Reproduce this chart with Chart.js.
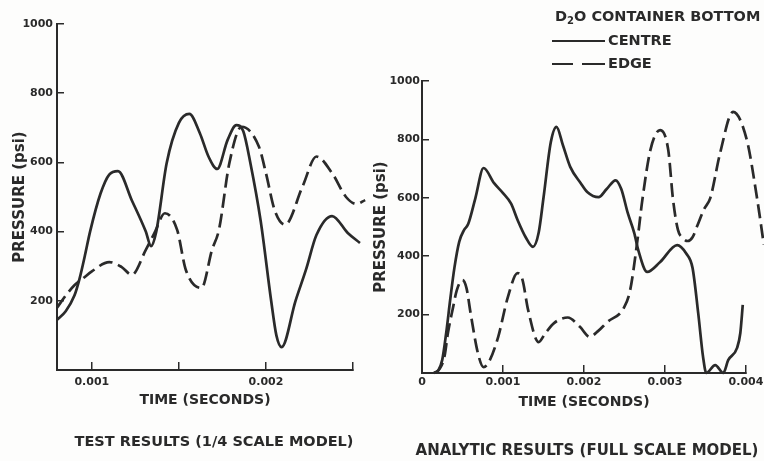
<!DOCTYPE html>
<html>
<head>
<meta charset="utf-8">
<script src="https://cdn.jsdelivr.net/npm/chart.js@4.4.1/dist/chart.umd.min.js"></script>
<style>
  body { margin: 0; background: #fdfdfc; }
  #wrap { position: relative; width: 764px; height: 461px; overflow: hidden; }
  canvas { position: absolute; top: 0; }
  .txt { position: absolute; font-family: "DejaVu Sans", sans-serif; font-weight: bold; color: #2a2a2a; white-space: nowrap; }
  .caption { width: 400px; text-align: center; line-height: 18px; }
  #legend { left: 552px; top: 5px; font-size: 14.5px; line-height: 23px; }
  #legend .sub { font-size: 10px; position: relative; top: 3px; }
  #legend .solid { display: inline-block; width: 53px; border-top: 2px solid #2a2a2a; vertical-align: middle; margin-right: 3px; }
  #legend .dash { display: inline-block; width: 21px; border-top: 2px solid #2a2a2a; vertical-align: middle; }
</style>
</head>
<body>
<div id="wrap">
  <canvas id="test" width="370" height="461" style="left:0"></canvas>
  <canvas id="analytic" width="394" height="461" style="left:370px"></canvas>
  <div class="txt caption" style="left:14px; top:432px; font-size:14.5px">TEST RESULTS (1/4 SCALE MODEL)</div>
  <div class="txt caption" style="left:387px; top:441px; font-size:15px">ANALYTIC RESULTS (FULL SCALE MODEL)</div>
  <div id="legend" class="txt">
    <div style="margin-left:3px">D<span class="sub">2</span>O CONTAINER BOTTOM</div>
    <div><span class="solid"></span>CENTRE</div>
    <div><span class="dash"></span><span class="dash" style="margin-left:9px;width:23px;margin-right:3px"></span>EDGE</div>
  </div>
</div>
<script>
// test results (1/4 scale model)
const testCentreTime = [0.0008, 0.00085, 0.0009, 0.00093, 0.00096, 0.00099, 0.00105, 0.0011, 0.00115, 0.00123, 0.00131, 0.00134, 0.00137, 0.00143, 0.0015, 0.00156, 0.00162, 0.00167, 0.00172, 0.00178, 0.00183, 0.00187, 0.00191, 0.00197, 0.00203, 0.00206, 0.00209, 0.00217, 0.00223, 0.00229, 0.00238, 0.00247, 0.00254];
const testCentrePsi  = [145, 170, 215, 265, 330, 400, 510, 565, 575, 490, 400, 358, 400, 598, 714, 740, 685, 617, 581, 665, 708, 690, 600, 430, 200, 100, 66, 200, 290, 390, 445, 396, 367];
const testEdgeTime = [0.0008, 0.00085, 0.0009, 0.00095, 0.001, 0.0011, 0.00117, 0.00123, 0.00131, 0.00136, 0.00142, 0.00149, 0.00154, 0.00163, 0.00169, 0.00173, 0.00179, 0.00186, 0.00196, 0.002, 0.00205, 0.00211, 0.00221, 0.00229, 0.00238, 0.00246, 0.00252, 0.00257];
const testEdgePsi  = [180, 215, 245, 265, 285, 312, 298, 275, 347, 396, 453, 405, 289, 237, 347, 405, 598, 703, 645, 569, 462, 420, 530, 617, 569, 500, 480, 491];
const testTimeTicks = [0.001, 0.0015, 0.002, 0.0025];
const testTimeLabels = ['0.001', '', '0.002', ''];

// analytic results (full scale model)
const analyticCentreTime = [0.00015, 0.0002, 0.00025, 0.0003, 0.00035, 0.0004, 0.00046, 0.00052, 0.00057, 0.00066, 0.00076, 0.00089, 0.001, 0.0011, 0.00118, 0.00128, 0.00137, 0.00144, 0.0015, 0.00159, 0.00166, 0.00174, 0.00183, 0.00196, 0.00204, 0.00218, 0.00228, 0.00239, 0.00246, 0.00254, 0.00262, 0.00267, 0.00278, 0.00294, 0.00315, 0.00326, 0.00334, 0.00341, 0.00347, 0.00351, 0.00362, 0.00372, 0.00378, 0.00389, 0.00393, 0.00396];
const analyticCentrePsi  = [0, 8, 45, 140, 255, 360, 450, 490, 510, 600, 702, 650, 616, 580, 524, 465, 432, 480, 600, 790, 843, 780, 706, 650, 620, 602, 630, 660, 630, 548, 480, 421, 346, 380, 438, 410, 360, 205, 55, 0, 27, 0, 44, 86, 137, 233];
const analyticEdgeTime = [0.00015, 0.00022, 0.00028, 0.00032, 0.00038, 0.00043, 0.0005, 0.00055, 0.0006, 0.00069, 0.00076, 0.00083, 0.00094, 0.00106, 0.00118, 0.00124, 0.00131, 0.00144, 0.00152, 0.00163, 0.0018, 0.00195, 0.00207, 0.00218, 0.00229, 0.00249, 0.00257, 0.00266, 0.00272, 0.00282, 0.00294, 0.00304, 0.0031, 0.00316, 0.00322, 0.00328, 0.00334, 0.0034, 0.00348, 0.00356, 0.00368, 0.00384, 0.00401, 0.00414, 0.00422];
const analyticEdgePsi  = [0, 15, 60, 137, 220, 284, 318, 290, 205, 68, 20, 40, 123, 260, 342, 320, 216, 106, 135, 171, 190, 158, 124, 145, 175, 222, 284, 455, 592, 764, 832, 764, 592, 490, 462, 452, 465, 505, 560, 600, 753, 894, 798, 592, 440];
const analyticTimeTicks = [0, 0.001, 0.002, 0.003, 0.004];
const analyticTimeLabels = ['0', '0.001', '0.002', '0.003', '0.004'];

const psiTicks = [0, 200, 400, 600, 800, 1000];

const INK = '#2a2a2a';
const FONT = '"DejaVu Sans", sans-serif';

function points(times, psi) {
  return times.map((t, i) => ({ x: t, y: psi[i] }));
}

function makeChart(id, o) {
  return new Chart(document.getElementById(id), {
    type: 'line',
    data: {
      datasets: [
        { label: 'CENTRE', data: points(o.centreTime, o.centrePsi), borderColor: INK, borderWidth: 2.7,
          pointRadius: 0, cubicInterpolationMode: 'monotone', clip: false, fill: false },
        { label: 'EDGE', data: points(o.edgeTime, o.edgePsi), borderColor: INK, borderWidth: 2.7,
          borderDash: [14, 6], pointRadius: 0, cubicInterpolationMode: 'monotone', clip: false, fill: false }
      ]
    },
    options: {
      responsive: false,
      animation: false,
      events: [],
      layout: { padding: { top: o.top, right: o.right, left: 0, bottom: 0 } },
      plugins: {
        legend: { display: false },
        tooltip: { enabled: false }
      },
      scales: {
        x: {
          type: 'linear',
          bounds: 'data',
          afterDataLimits: s => { s.min = o.xMin; s.max = o.xMax; },
          afterBuildTicks: s => { s.ticks = o.xTicks.map(v => ({ value: v })); },
          // fixed axis height; end labels may hang past the plot edge
          afterFit: s => { s.height = o.xHeight; s.paddingRight = 0; s.paddingLeft = 0; },
          grid: { drawOnChartArea: false, tickLength: -8, color: INK, lineWidth: 1.5 },
          border: { color: INK, width: 2 },
          ticks: { autoSkip: false, maxRotation: 0, padding: o.xTickPad, color: INK,
                   font: { family: FONT, size: 11, weight: 'bold' },
                   callback: (v, i) => o.xLabels[i] },
          title: { display: true, text: 'TIME (SECONDS)', color: INK,
                   font: { family: FONT, size: 14, weight: 'bold' },
                   padding: { top: 0, bottom: o.xTitlePad } }
        },
        y: {
          min: 0, max: 1000,
          afterBuildTicks: s => { s.ticks = psiTicks.map(v => ({ value: v })); },
          afterFit: s => { s.width = o.yWidth; },
          grid: { drawOnChartArea: false, tickLength: -7, color: INK, lineWidth: 1.5 },
          border: { color: INK, width: 2 },
          ticks: { padding: o.yTickPad, color: INK, font: { family: FONT, size: 11, weight: 'bold' },
                   callback: v => (v === 0 ? '' : String(v)) },
          title: { display: true, text: 'PRESSURE (psi)', color: INK,
                   font: { family: FONT, size: 15, weight: 'bold' },
                   padding: { top: o.yTitlePad, bottom: 0 } }
        }
      }
    }
  });
}

makeChart('test', {
  centreTime: testCentreTime, centrePsi: testCentrePsi,
  edgeTime: testEdgeTime, edgePsi: testEdgePsi,
  xMin: 0.0008, xMax: 0.0025, xTicks: testTimeTicks, xLabels: testTimeLabels,
  top: 24, right: 17, xHeight: 91, xTickPad: 13.4, xTitlePad: 52.6,
  yWidth: 57, yTickPad: 11, yTitlePad: 11
});

makeChart('analytic', {
  centreTime: analyticCentreTime, centrePsi: analyticCentrePsi,
  edgeTime: analyticEdgeTime, edgePsi: analyticEdgePsi,
  xMin: 0, xMax: 0.004, xTicks: analyticTimeTicks, xLabels: analyticTimeLabels,
  top: 81, right: 18, xHeight: 88, xTickPad: 10.4, xTitlePad: 50.6,
  yWidth: 52, yTickPad: 9, yTitlePad: 2
});
</script>
</body>
</html>
